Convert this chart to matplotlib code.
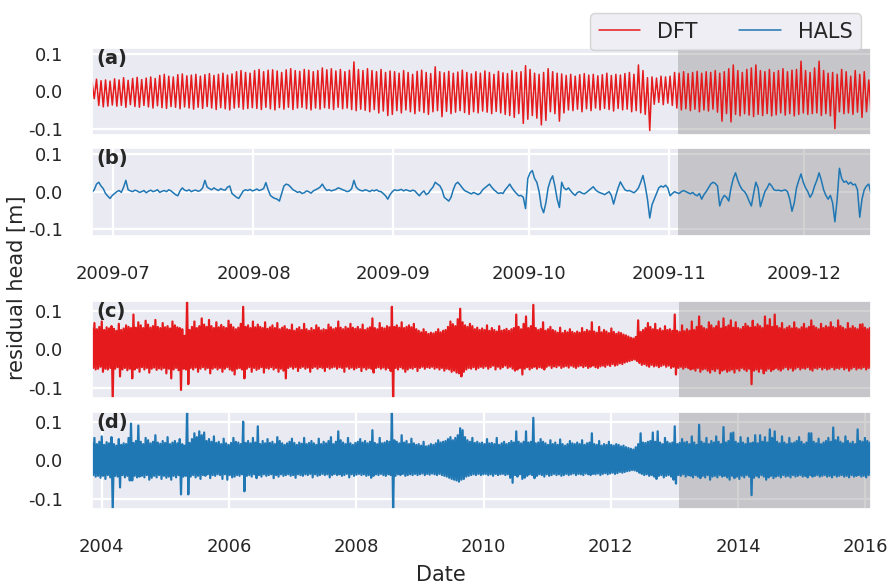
import numpy as np
import pandas as pd
import matplotlib
matplotlib.use("Agg")
import matplotlib.pyplot as plt
import matplotlib.dates as mdates
from matplotlib.ticker import FormatStrFormatter
import seaborn as sns

sns.set_theme(style="darkgrid")
plt.rcParams["font.family"] = ["DejaVu Sans"]
plt.rcParams["axes.unicode_minus"] = False
plt.rcParams["grid.linewidth"] = 1.6

RED = "#e41a1c"
BLUE = "#1f77b4"

# --- zoom window 2009 (panels a, b), values in mm, one high/low pair per day ---
zoom_start = "2009-06-26"
zoom_days = 173
split_zoom = "2009-11-03"

dft_hi = [25, 32, 28, 30, 27,
          33, 30, 36, 29, 34, 37, 31, 35, 38, 34, 42, 45, 40, 38, 44, 46, 41, 43, 45, 40,
          44, 47, 42, 45, 48, 43, 46, 52, 55, 50, 48,
          55, 58, 52, 56, 57, 54, 50, 57, 60, 55, 53, 58, 56, 52, 55, 62, 57, 60, 54, 58,
          52, 56, 78, 58, 55, 60, 55, 52, 58, 50, 54,
          52, 48, 55, 50, 45, 53, 56, 50, 47, 65, 52, 49, 53, 48, 51, 56, 50, 46, 52, 48,
          54, 50, 45, 53, 49, 47, 55, 50, 52, 68,
          58, 48, 45, 50, 60, 52, 48, 46, 42, 45, 40, 44, 47, 43, 45, 41, 44, 48, 42, 45,
          43, 47, 50, 45, 70, 55, 36, 38, 35, 40, 38,
          40, 50, 48, 52, 47, 50, 53, 48, 52, 50, 55, 48, 52, 60, 70, 55, 50, 58, 62, 70,
          55, 52, 58, 50, 55, 60, 52, 56, 58, 80,
          55, 50, 62, 80, 55, 48, 50, 45, 58, 52, 40, 55, 45, 52, 30]
dft_lo = [-20, -38, -42, -40, -37,
          -40, -38, -43, -36, -41, -43, -38, -42, -45, -39, -44, -46, -41, -43, -47, -42,
          -45, -48, -43, -46, -41, -45, -49, -44, -47, -50, -45, -43, -48, -46, -44,
          -46, -49, -43, -47, -50, -44, -48, -43, -49, -45, -43, -47, -50, -45, -48, -44,
          -46, -49, -43, -47, -45, -49, -52, -48, -51, -55, -49, -58, -53, -65, -62,
          -52, -58, -50, -55, -60, -53, -57, -62, -55, -52, -68, -54, -60, -56, -52, -57,
          -62, -55, -58, -53, -56, -60, -54, -58, -62, -65, -70, -60, -86, -75,
          -65, -72, -90, -78, -55, -60, -80, -58, -50, -52, -48, -55, -47, -52, -45, -50,
          -46, -49, -53, -46, -50, -48, -55, -52, -58, -62, -105, -35, -30, -36, -32,
          -38, -45, -50, -47, -52, -48, -55, -50, -53, -48, -56, -80, -60, -82, -62, -66,
          -60, -64, -68, -62, -65, -60, -66, -63, -58, -64, -60, -66, -62, -58,
          -62, -60, -58, -65, -60, -66, -100, -55, -60, -58, -62, -56, -70, -55, -52]
# HALS residual, two readings per day (morning, evening)
hals_zoom = [-2, 5, 20, 25, 15, 8, -5, -12, -18, -10,
             -5, 0, 3, -2, 12, 30, 5, 2, 0, 4, 2, -2, 0, 3, -3, 1, 4, 0, 2, 5,
             -2, 1, 3, 0, 5, 2, -3, -8, -11, 2, 10, 4, 2, 5, 0, 3, 4, 1, 3, 10,
             30, 12, 8, 5, 10, 6, 3, 8, 5, 4, 12, 15, -5, -10, -15, -18, -8, 2, 5, 3, 6, 2,
             4, 7, 3, 5, 8, 24, 5, -10, -15, -18, -20, -25, -5, 15, 20, 18, 12, 5, 2, -2,
             0, -5, -3, 2, 0, -4, 2, 5, 8, 12, 20, 10, 3, 5, 2, 4, 6, 10, 8, 5,
             3, 0, 2, 8, 30, 12, 6, 3, 2, 5, 3, 0, 4, 2, 5, 1, 0, -5, -11, -20, -8, 0,
             5, 3, 4, 6, 2, 5, 3, 1, 4, 2, -5, -11, -3, 2, -8, -4, 5, 12, 25, 20,
             16, 5, -15, -20, -25, -15, 5, 20, 25, 18, 10, 3, 0, -3, -6, -2, -5, -8, -4, 5,
             10, 15, 20, 12, 5, 0, -5, -3, -5, 5, 12, 20, 10, 2, -5, -11, -10, -15, -45, 35,
             50, 56, 35, 25, 0, -40, -56, -30, 10, 30, 42, 15, -20, -42, 25, 10, 5, 10, 2, -5,
             -10, -2, 0, -4, -6, -2, 3, 8, 13, 5, 0, -3, -5, -8, -4, 0, -10, -33, -10, 10,
             26, 15, 5, 2, 3, 0, -3, 2, 10, 25, 43, 15, -20, -70, -35, -20, -5, 10, 15, 12, 17, 10,
             -11, -5, 0, -3, -5, 0, 3, 0, -3, -6, -2, -8, -11, -5, -20, -8, 0, 10, 20, 25,
             22, 15, -38, -20, -10, -15, -25, 10, 35, 50, 30, 15, 5, 0, -10, -25, -38, -5, 25, 10,
             -40, -20, 0, 10, 22, 15, 5, 3, 4, 2, 3, 5, 0, -20, -52, -30, 10, 30, 47, 25,
             10, 0, -15, -5, 15, 30, 50, 30, 5, -10, -20, -10, -30, -80, -20, 62, 35, 25, 28, 20,
             25, 18, 20, 5, -68, -20, 5, 15, 20, -5]

# --- full record 2003-2016 (panels c, d), mm, high/low envelope every 14 days ---
full_start = "2003-11-06"
full_steps = 320
split_full = "2013-01-27"

dft_full_hi = [55, 68, 52, 58, 72, 50, 57, 54, 60, 53, 48, 66, 50, 54, 62, 58, 55, 90, 56, 70,
               62, 55, 74, 64, 56, 60, 76, 58, 55, 68, 57, 60, 54, 72, 62, 57, 55, 52, 35, 130,
               50, 58, 72, 55, 60, 80, 64, 58, 76, 60, 55, 70, 57, 63, 58, 55, 74, 64, 57, 52,
               56, 66, 110, 58, 62, 55, 72, 57, 64, 58, 55, 70, 53, 57, 62, 55, 68, 52, 56, 60,
               52, 50, 64, 48, 53, 57, 50, 66, 52, 48, 55, 50, 62, 56, 49, 52, 50, 64, 57, 52,
               55, 72, 56, 52, 58, 54, 66, 56, 53, 58, 52, 64, 50, 54, 57, 80, 55, 52, 68, 56,
               54, 60, 57, 110, 58, 62, 56, 70, 55, 58, 62, 57, 66, 52, 48, 44, 52, 45, 40, 43,
               41, 45, 52, 44, 48, 50, 58, 72, 65, 60, 78, 105, 70, 62, 58, 66, 60, 52, 56, 50,
               54, 50, 62, 48, 55, 50, 46, 60, 48, 50, 53, 48, 52, 55, 90, 58, 52, 66, 85, 55,
               60, 115, 55, 50, 53, 70, 48, 52, 58, 50, 47, 43, 56, 42, 48, 44, 52, 45, 42, 46,
               43, 55, 45, 50, 47, 70, 46, 43, 58, 44, 50, 46, 42, 54, 45, 40, 44, 42, 38, 36,
               33, 30, 28, 32, 75, 45, 50, 55, 68, 58, 52, 66, 50, 54, 48, 60, 50, 52, 48, 90,
               48, 45, 62, 47, 52, 48, 72, 50, 58, 85, 60, 55, 52, 70, 62, 55, 60, 72, 54, 80,
               58, 62, 75, 56, 70, 55, 52, 58, 66, 60, 56, 74, 58, 65, 60, 55, 85, 62, 78, 58,
               90, 60, 55, 68, 52, 56, 60, 54, 70, 55, 52, 57, 66, 54, 58, 75, 60, 56, 52, 66,
               55, 60, 57, 70, 58, 55, 75, 60, 56, 52, 68, 54, 60, 55, 52, 64, 65, 56, 52, 55]
dft_full_lo = [-48, -52, -50, -45, -58, -50, -52, -48, -130, -50, -46, -70, -52, -48, -54, -50, -75, -52, -48, -58,
               -46, -52, -48, -60, -50, -47, -53, -49, -52, -48, -62, -50, -75, -52, -48, -54, -105, -50, -52, -90,
               -48, -52, -47, -58, -50, -46, -52, -48, -62, -50, -47, -52, -48, -58, -50, -46, -52, -55, -65, -50,
               -48, -52, -75, -50, -46, -58, -48, -53, -50, -46, -60, -48, -50, -46, -52, -48, -58, -50, -55, -75,
               -48, -45, -50, -46, -56, -48, -45, -50, -47, -58, -48, -45, -50, -46, -48, -56, -46, -50, -47, -45,
               -50, -46, -48, -58, -45, -50, -47, -52, -48, -46, -56, -47, -52, -48, -50, -60, -48, -46, -50, -47,
               -52, -48, -56, -130, -48, -52, -46, -50, -58, -52, -48, -50, -46, -56, -48, -45, -50, -46, -48, -45,
               -50, -47, -52, -48, -55, -50, -52, -58, -55, -60, -62, -70, -58, -52, -48, -50, -46, -52, -48, -45,
               -48, -44, -50, -46, -42, -52, -45, -50, -46, -42, -48, -45, -50, -55, -52, -48, -65, -50, -46, -52,
               -48, -45, -50, -46, -48, -52, -45, -42, -48, -44, -46, -42, -48, -45, -43, -47, -42, -45, -48, -44,
               -42, -46, -43, -48, -45, -42, -46, -48, -44, -42, -45, -40, -43, -38, -42, -40, -36, -38, -34, -32,
               -30, -28, -26, -30, -35, -40, -38, -42, -45, -40, -44, -42, -46, -43, -40, -45, -42, -48, -45, -65,
               -48, -45, -50, -46, -48, -52, -50, -55, -48, -58, -52, -50, -55, -60, -52, -56, -50, -62, -55, -52,
               -58, -55, -52, -60, -50, -55, -48, -52, -56, -50, -90, -55, -52, -58, -50, -62, -55, -50, -56, -52,
               -48, -52, -55, -50, -46, -52, -48, -55, -50, -46, -52, -48, -50, -46, -52, -55, -48, -50, -46, -52,
               -48, -52, -50, -46, -52, -48, -50, -46, -52, -48, -55, -50, -46, -52, -48, -50, -46, -52, -48, -50]
hals_full_hi = [45, 58, 42, 48, 62, 40, 47, 44, 60, 42, 38, 55, 40, 44, 42, 58, 95, 45, 50, 90,
                48, 42, 58, 52, 44, 48, 65, 46, 43, 50, 45, 60, 42, 46, 50, 44, 55, 42, 38, 130,
                45, 55, 70, 60, 75, 65, 72, 50, 55, 48, 62, 45, 48, 42, 56, 44, 40, 45, 58, 48,
                46, 42, 100, 45, 50, 44, 58, 46, 88, 42, 50, 44, 55, 45, 48, 42, 60, 50, 44, 40,
                44, 48, 56, 45, 40, 46, 43, 58, 42, 45, 50, 44, 40, 56, 42, 48, 44, 50, 60, 42,
                48, 75, 52, 46, 42, 58, 44, 40, 45, 48, 55, 46, 50, 44, 48, 78, 45, 42, 58, 44,
                46, 50, 48, 130, 52, 48, 44, 65, 46, 50, 42, 56, 44, 40, 42, 38, 48, 36, 38, 42,
                40, 44, 52, 46, 48, 50, 55, 60, 52, 58, 65, 83, 78, 60, 52, 48, 58, 45, 48, 44,
                46, 42, 55, 44, 45, 42, 58, 40, 44, 48, 42, 45, 50, 46, 75, 48, 44, 48, 75, 46,
                48, 110, 44, 46, 55, 48, 44, 40, 52, 42, 46, 40, 54, 42, 38, 42, 50, 44, 42, 46,
                42, 52, 40, 44, 46, 70, 42, 40, 50, 38, 42, 40, 48, 40, 38, 42, 40, 36, 38, 34,
                32, 30, 28, 34, 42, 70, 46, 45, 48, 50, 72, 48, 75, 46, 42, 58, 48, 44, 46, 88,
                42, 45, 55, 46, 48, 42, 62, 46, 40, 92, 48, 44, 58, 42, 50, 46, 62, 48, 42, 86,
                46, 50, 70, 72, 48, 44, 60, 46, 42, 58, 44, 46, 65, 44, 65, 48, 60, 46, 80, 58,
                75, 48, 44, 62, 46, 42, 58, 44, 46, 50, 60, 48, 42, 46, 70, 70, 48, 44, 56, 42,
                46, 50, 58, 48, 85, 52, 60, 48, 44, 62, 50, 44, 48, 42, 80, 50, 48, 58, 50, 46]
hals_full_lo = [-38, -42, -40, -45, -40, -48, -38, -44, -130, -40, -42, -70, -38, -44, -40, -52, -52, -40, -44, -42,
                -40, -44, -38, -50, -45, -40, -44, -38, -48, -40, -45, -42, -50, -40, -44, -38, -88, -42, -40, -88,
                -42, -38, -44, -40, -48, -38, -40, -36, -46, -38, -40, -36, -38, -48, -36, -50, -38, -44, -42, -38,
                -40, -36, -80, -40, -38, -42, -36, -46, -38, -42, -36, -40, -38, -36, -46, -38, -42, -36, -40, -38,
                -36, -40, -38, -45, -36, -38, -40, -36, -38, -35, -44, -36, -40, -38, -35, -38, -36, -44, -38, -35,
                -38, -36, -40, -38, -35, -44, -36, -40, -37, -35, -38, -36, -40, -38, -45, -40, -36, -38, -35, -38,
                -40, -36, -38, -130, -40, -36, -38, -35, -40, -38, -36, -38, -35, -38, -36, -34, -38, -35, -37, -34,
                -36, -38, -35, -38, -40, -42, -45, -48, -50, -52, -55, -50, -48, -42, -40, -38, -36, -38, -35, -38,
                -36, -35, -38, -36, -40, -35, -38, -36, -35, -38, -36, -45, -58, -38, -42, -36, -48, -45, -40, -36,
                -38, -46, -40, -36, -38, -42, -36, -40, -38, -35, -38, -36, -40, -38, -35, -38, -36, -34, -38, -35,
                -36, -38, -34, -36, -38, -35, -36, -34, -38, -35, -33, -36, -34, -32, -35, -33, -30, -32, -30, -28,
                -27, -25, -26, -28, -32, -35, -38, -36, -40, -38, -42, -48, -40, -38, -44, -40, -38, -42, -50, -60,
                -38, -40, -36, -42, -38, -40, -44, -38, -42, -46, -40, -44, -38, -50, -42, -40, -44, -38, -42, -40,
                -44, -50, -40, -46, -42, -48, -40, -44, -38, -42, -90, -45, -40, -44, -38, -42, -50, -44, -40, -46,
                -42, -40, -44, -38, -42, -40, -44, -38, -42, -40, -38, -42, -40, -44, -38, -42, -40, -38, -42, -40,
                -38, -42, -40, -44, -38, -42, -40, -38, -42, -40, -44, -38, -42, -40, -38, -42, -40, -44, -38, -40]


def pair_up(a, b):
    # alternate two sequences: a0, b0, a1, b1, ...
    return np.column_stack([np.asarray(a), np.asarray(b)]).ravel()


days = pd.date_range(zoom_start, periods=zoom_days, freq="D")
t_zoom = pair_up(days + pd.Timedelta(hours=6), days + pd.Timedelta(hours=18))
y_dft_zoom = pair_up(dft_hi, dft_lo) / 1000.0
y_hals_zoom = np.asarray(hals_zoom) / 1000.0

steps = pd.date_range(full_start, periods=full_steps, freq="14D")
t_full = pair_up(steps, steps + pd.Timedelta(days=7))
y_dft_full = pair_up(dft_full_hi, dft_full_lo) / 1000.0
y_hals_full = pair_up(hals_full_hi, hals_full_lo) / 1000.0

fig = plt.figure(figsize=(8.94, 5.87), dpi=100)
L, W = 0.1029, 0.8714
ax_a = fig.add_axes([L, 0.770, W, 0.1487])
ax_b = fig.add_axes([L, 0.5985, W, 0.1494])
ax_c = fig.add_axes([L, 0.3225, W, 0.1647])
ax_d = fig.add_axes([L, 0.1334, W, 0.1647])

line_dft, = ax_a.plot(t_zoom, y_dft_zoom, color=RED, lw=1.1, zorder=2)
line_hals, = ax_b.plot(t_zoom, y_hals_zoom, color=BLUE, lw=1.1, zorder=2)
ax_c.plot(t_full, y_dft_full, color=RED, lw=1.6, zorder=2)
ax_d.plot(t_full, y_hals_full, color=BLUE, lw=1.6, zorder=2)

for ax, tag in zip([ax_a, ax_b, ax_c, ax_d], ["(a)", "(b)", "(c)", "(d)"]):
    ax.set_yticks([-0.1, 0.0, 0.1])
    ax.yaxis.set_major_formatter(FormatStrFormatter("%.1f"))
    ax.tick_params(axis="y", labelsize=13, pad=15)
    ax.tick_params(axis="x", labelsize=13, pad=15)
    ax.text(0.006, 0.985, tag, transform=ax.transAxes, fontsize=14,
            fontweight="bold", va="top", ha="left", zorder=5)

for ax in [ax_a, ax_b]:
    ax.set_xlim(t_zoom[0], t_zoom[-1])
    ax.set_ylim(-0.117, 0.116)
    ax.axvspan(pd.Timestamp(split_zoom), t_zoom[-1], color="grey", alpha=0.35, lw=0, zorder=1)
    ax.xaxis.set_major_locator(mdates.MonthLocator())
    ax.xaxis.set_major_formatter(mdates.DateFormatter("%Y-%m"))

for ax in [ax_c, ax_d]:
    ax.set_xlim(t_full[0], t_full[-1])
    ax.set_ylim(-0.125, 0.125)
    ax.axvspan(pd.Timestamp(split_full), t_full[-1], color="grey", alpha=0.35, lw=0, zorder=1)
    ax.xaxis.set_major_locator(mdates.YearLocator(2))
    ax.xaxis.set_major_formatter(mdates.DateFormatter("%Y"))

# upper panel of each pair only shows horizontal grid lines
for ax in [ax_a, ax_c]:
    ax.xaxis.grid(False)
    ax.tick_params(axis="x", labelbottom=False)

fig.text(17 / 894, 0.51, "residual head [m]", rotation=90, ha="center", va="center", fontsize=15)
fig.text(441 / 894, 1 - 575 / 587, "Date", ha="center", va="center", fontsize=15)

fig.legend([line_dft, line_hals], ["DFT", "HALS"], loc="upper right", ncol=2,
           bbox_to_anchor=(871 / 894, 1 - 3 / 587), fontsize=15, frameon=True)

fig.savefig("out.png", dpi=100)
